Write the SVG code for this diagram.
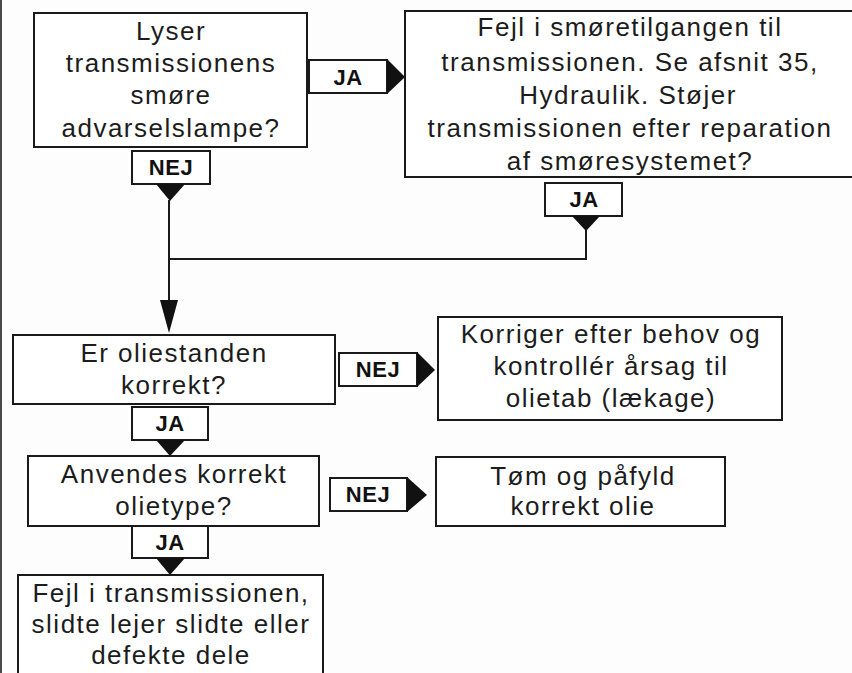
<svg xmlns="http://www.w3.org/2000/svg" width="852" height="673" viewBox="0 0 852 673">
  <style>
    .box { fill: #ffffff; stroke: #1a1a1a; stroke-width: 2; }
    .lbl { fill: #ffffff; stroke: #1a1a1a; stroke-width: 2; }
    .txt { font-family: "Liberation Sans", Arial, sans-serif; font-size: 26px; letter-spacing: 1.5px; fill: #1c1c1c; text-anchor: middle; }
    .ltxt { font-family: "Liberation Sans", Arial, sans-serif; font-size: 22px; font-weight: bold; letter-spacing: 0.5px; fill: #111111; text-anchor: middle; }
    .head { fill: #111111; stroke: none; }
    .wire { fill: none; stroke: #1a1a1a; stroke-width: 2; }
  </style>
  <rect x="0" y="0" width="852" height="673" fill="#fdfdfd"/>
  <line x1="1" y1="0" x2="1" y2="673" stroke="#4a4a4a" stroke-width="2"/>

  <!-- connectors: labelled tags with solid heads, plus the merge lines -->
  <g id="connectors">
    <!-- JA: warning lamp -> lubrication fault -->
    <rect class="lbl" x="309" y="60" width="78" height="33"/>
    <text class="ltxt" x="348" y="85">JA</text>
    <polygon class="head" points="387,59 405,77 387,94"/>

    <!-- NEJ: warning lamp down -->
    <rect class="lbl" x="132" y="151" width="78" height="33"/>
    <text class="ltxt" x="171" y="175">NEJ</text>
    <polygon class="head" points="156,184 170,201 185,184"/>

    <!-- JA: still noisy after repair -->
    <rect class="lbl" x="545" y="183" width="77" height="33"/>
    <text class="ltxt" x="584" y="207">JA</text>
    <polygon class="head" points="572,216 586,231 600,216"/>

    <!-- merge into oil level check -->
    <path class="wire" d="M169,200 V302"/>
    <path class="wire" d="M586,230 V259 H169"/>
    <polygon class="head" points="160,300 169,333 178,300"/>

    <!-- NEJ: oil level -> correct -->
    <rect class="lbl" x="339" y="353" width="78" height="33"/>
    <text class="ltxt" x="378" y="377">NEJ</text>
    <polygon class="head" points="417,352 435,370 417,387"/>

    <!-- JA: oil level ok -> oil type -->
    <rect class="lbl" x="132" y="407" width="76" height="33"/>
    <text class="ltxt" x="170" y="431">JA</text>
    <polygon class="head" points="156,440 170,456 185,440"/>

    <!-- NEJ: wrong oil type -> drain and refill -->
    <rect class="lbl" x="330" y="478" width="77" height="33"/>
    <text class="ltxt" x="368" y="502">NEJ</text>
    <polygon class="head" points="407,477 427,495 407,512"/>

    <!-- JA: oil type ok -> transmission fault -->
    <rect class="lbl" x="132" y="526" width="76" height="32"/>
    <text class="ltxt" x="170" y="550">JA</text>
    <polygon class="head" points="156,558 170,575 185,558"/>
  </g>

  <g id="n-lamp">
    <rect class="box" x="34" y="13" width="273" height="134"/>
    <text class="txt" x="171" y="40">Lyser</text>
    <text class="txt" x="171" y="72">transmissionens</text>
    <text class="txt" x="171" y="104">smøre</text>
    <text class="txt" x="171" y="137">advarselslampe?</text>
  </g>

  <g id="n-lubfault">
    <rect class="box" x="405" y="11" width="460" height="166"/>
    <text class="txt" x="630" y="36">Fejl i smøretilgangen til</text>
    <text class="txt" x="630" y="71">transmissionen. Se afsnit 35,</text>
    <text class="txt" x="628" y="104">Hydraulik. Støjer</text>
    <text class="txt" x="630" y="137">transmissionen efter reparation</text>
    <text class="txt" x="630" y="170">af smøresystemet?</text>
  </g>

  <g id="n-oillevel">
    <rect class="box" x="13" y="335" width="322" height="69"/>
    <text class="txt" x="174" y="362">Er oliestanden</text>
    <text class="txt" x="174" y="394">korrekt?</text>
  </g>

  <g id="n-correct">
    <rect class="box" x="438" y="317" width="344" height="103"/>
    <text class="txt" x="611" y="343">Korriger efter behov og</text>
    <text class="txt" x="611" y="375">kontrollér årsag til</text>
    <text class="txt" x="611" y="407">olietab (lækage)</text>
  </g>

  <g id="n-oiltype">
    <rect class="box" x="28" y="456" width="291" height="70"/>
    <text class="txt" x="174" y="483">Anvendes korrekt</text>
    <text class="txt" x="174" y="515">olietype?</text>
  </g>

  <g id="n-refill">
    <rect class="box" x="436" y="457" width="289" height="69"/>
    <text class="txt" x="583" y="485">Tøm og påfyld</text>
    <text class="txt" x="583" y="515">korrekt olie</text>
  </g>

  <g id="n-transfault">
    <rect class="box" x="18" y="575" width="305" height="110"/>
    <text class="txt" x="171" y="602">Fejl i transmissionen,</text>
    <text class="txt" x="171" y="633">slidte lejer slidte eller</text>
    <text class="txt" x="171" y="664">defekte dele</text>
  </g>
</svg>
